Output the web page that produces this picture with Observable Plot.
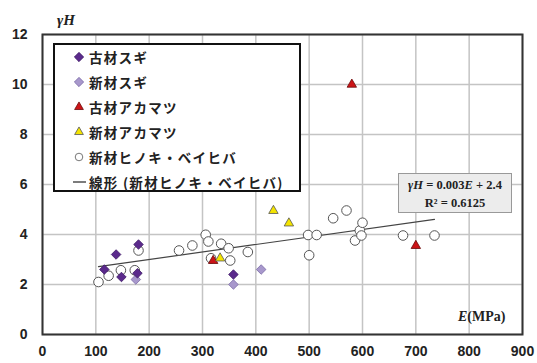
<!DOCTYPE html>
<html><head><meta charset="utf-8">
<script src="https://cdn.jsdelivr.net/npm/d3@7"></script>
<script src="https://cdn.jsdelivr.net/npm/@observablehq/plot@0.6"></script>
<style>
body{margin:0;background:#fff;}
#wrap{position:relative;width:537px;height:363px;overflow:hidden;}
#legend{position:absolute;left:53px;top:43px;width:244px;height:145px;border:2px solid #111;background:#fff;
  font-family:"Noto Sans CJK JP",sans-serif;font-weight:700;font-size:13.5px;letter-spacing:1.3px;color:#222;box-sizing:content-box;}
#legend .row{position:absolute;left:0;height:20px;display:flex;align-items:center;white-space:nowrap;}
#legend svg{display:block;}
#eq{position:absolute;left:398px;top:173px;width:114px;height:40px;background:#ececec;border:1px solid #999;
  font-family:"Liberation Serif",serif;font-weight:700;font-size:12.5px;color:#222;text-align:center;line-height:18px;padding-top:2px;box-sizing:border-box;}
.ax{position:absolute;font-family:"Liberation Serif",serif;font-weight:700;color:#222;}
</style></head><body><div id="wrap"></div>
<script>
// axis ticks
const xTicks = [0, 100, 200, 300, 400, 500, 600, 700, 800, 900];
const yTicks = [0, 2, 4, 6, 8, 10, 12];

// series names
const seriesNames = ["古材スギ", "新材スギ", "古材アカマツ", "新材アカマツ", "新材ヒノキ・ベイヒバ"];
const trendName = "線形 (新材ヒノキ・ベイヒバ)";

// 古材スギ
const koSugiE = [116, 138, 148, 180, 178, 358];
const koSugiH = [2.6, 3.2, 2.3, 3.6, 2.45, 2.4];
// 新材スギ
const shinSugiE = [175, 358, 410];
const shinSugiH = [2.2, 2.0, 2.6];
// 古材アカマツ
const koAkaE = [580, 320, 700];
const koAkaH = [10.0, 2.95, 3.55];
// 新材アカマツ
const shinAkaE = [433, 462, 333];
const shinAkaH = [4.95, 4.45, 3.05];
// 新材ヒノキ・ベイヒバ
const hinokiE = [105, 124, 147, 173, 180, 256, 281, 306, 311, 335, 316, 349, 352, 385, 498, 514, 500, 545, 570, 586, 595, 598, 600, 676, 735];
const hinokiH = [2.1, 2.35, 2.57, 2.57, 3.36, 3.36, 3.56, 3.99, 3.72, 3.63, 3.05, 3.45, 2.96, 3.3, 3.98, 3.98, 3.17, 4.65, 4.96, 3.76, 4.16, 3.96, 4.47, 3.96, 3.96];

// trend line (from the equation label)
const trendSlope = 0.003;
const trendIntercept = 2.4;

const zip = (xs, ys) => xs.map((x, i) => ({E: x, H: ys[i]}));
const koSugi = zip(koSugiE, koSugiH);
const shinSugi = zip(shinSugiE, shinSugiH);
const koAka = zip(koAkaE, koAkaH);
const shinAka = zip(shinAkaE, shinAkaH);
const hinoki = zip(hinokiE, hinokiH);
const trend = [d3.min(hinokiE), d3.max(hinokiE)].map(E => ({E, H: trendSlope * E + trendIntercept}));

const styles = [
  {symbol: "diamond2", fill: "#5b2a8c", stroke: "#3d1a66"},
  {symbol: "diamond2", fill: "#a898cc", stroke: "#7a6aa6"},
  {symbol: "triangle2", fill: "#cc1417", stroke: "#6a0a0a"},
  {symbol: "triangle2", fill: "#f4e400", stroke: "#555"},
  {symbol: "circle", fill: "#fff", stroke: "#555"}
];

const chart = Plot.plot({
  width: 537, height: 363,
  marginLeft: 42, marginRight: 15, marginTop: 34, marginBottom: 29,
  style: {fontFamily: "'Liberation Sans', Arial, sans-serif", fontWeight: "bold", fontSize: "14px", color: "#222", background: "#fff"},
  x: {domain: [0, 900], label: null},
  y: {domain: [0, 12], label: null},
  marks: [
    Plot.gridX(xTicks, {stroke: "#c4c4c4", strokeOpacity: 1, strokeWidth: 1.5}),
    Plot.gridY(yTicks, {stroke: "#c4c4c4", strokeOpacity: 1, strokeWidth: 1.5}),
    Plot.axisX({ticks: xTicks, tickSize: 0, tickPadding: 12, label: null}),
    Plot.axisY({ticks: yTicks, tickSize: 0, tickPadding: 15, label: null}),
    Plot.line(trend, {x: "E", y: "H", stroke: "#444", strokeWidth: 1.2}),
    Plot.dot(hinoki, {x: "E", y: "H", r: 4.8, symbol: styles[4].symbol, fill: styles[4].fill, stroke: styles[4].stroke, strokeWidth: 1}),
    Plot.dot(shinSugi, {x: "E", y: "H", r: 4.3, symbol: styles[1].symbol, fill: styles[1].fill, stroke: styles[1].stroke, strokeWidth: 0.8}),
    Plot.dot(koSugi, {x: "E", y: "H", r: 4.3, symbol: styles[0].symbol, fill: styles[0].fill, stroke: styles[0].stroke, strokeWidth: 0.8}),
    Plot.dot(koAka, {x: "E", y: "H", r: 4.5, symbol: styles[2].symbol, fill: styles[2].fill, stroke: styles[2].stroke, strokeWidth: 0.8}),
    Plot.dot(shinAka, {x: "E", y: "H", r: 4.5, symbol: styles[3].symbol, fill: styles[3].fill, stroke: styles[3].stroke, strokeWidth: 0.8}),
    Plot.frame({stroke: "#333", strokeWidth: 2})
  ]
});
const wrap = document.getElementById("wrap");
wrap.appendChild(chart);

// axis titles
const yt = document.createElement("div");
yt.className = "ax";
yt.style.cssText = "left:57px;top:12px;font-size:15px;font-style:italic;";
yt.textContent = "γH";
wrap.appendChild(yt);
const xt = document.createElement("div");
xt.className = "ax";
xt.style.cssText = "left:458px;top:309px;font-size:14px;";
xt.innerHTML = "<i>E</i>(MPa)";
wrap.appendChild(xt);

// legend
const legend = document.createElement("div");
legend.id = "legend";
const rowTops = [2, 27, 52, 77, 102, 127];
seriesNames.forEach((name, i) => {
  const s = styles[i];
  const row = document.createElement("div");
  row.className = "row";
  row.style.top = rowTops[i] + "px";
  const sym = d3.symbol(
    s.symbol === "diamond2" ? d3.symbolDiamond2 : s.symbol === "triangle2" ? d3.symbolTriangle2 : d3.symbolCircle,
    s.symbol === "circle" ? 45 : 55)();
  row.innerHTML = `<svg width="34" height="20"><path d="${sym}" transform="translate(24,10)" fill="${s.fill}" stroke="${s.stroke}" stroke-width="0.8"/></svg><span>${name}</span>`;
  legend.appendChild(row);
});
const trow = document.createElement("div");
trow.className = "row";
trow.style.top = rowTops[5] + "px";
trow.innerHTML = `<svg width="34" height="20"><line x1="18" x2="31" y1="10" y2="10" stroke="#444" stroke-width="1.4"/></svg><span>${trendName}</span>`;
legend.appendChild(trow);
wrap.appendChild(legend);

// equation box
const eq = document.createElement("div");
eq.id = "eq";
eq.innerHTML = `<i>γH</i> = 0.003<i>E</i> + 2.4<br>R² = 0.6125`;
wrap.appendChild(eq);
</script>
</body></html>
